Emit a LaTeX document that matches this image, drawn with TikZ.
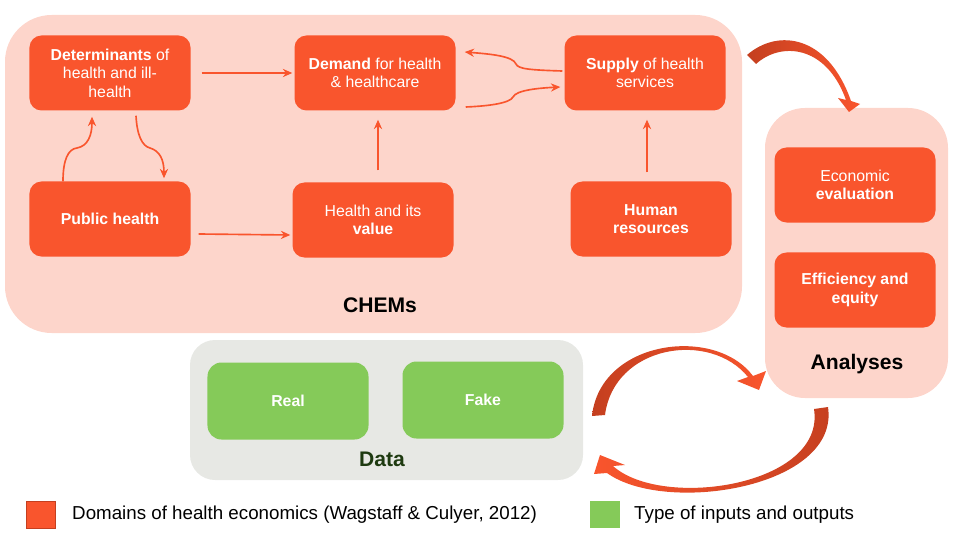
\documentclass[tikz,border=0pt]{standalone}
\usepackage{fontspec}
\setmainfont{Liberation Sans}
\usetikzlibrary{calc,arrows.meta}

\definecolor{domorange}{HTML}{F9552D}
\definecolor{chemsbg}{HTML}{FDD5CB}
\definecolor{databg}{HTML}{E7E8E4}
\definecolor{typegreen}{HTML}{85CA59}
\definecolor{datatext}{HTML}{1E3A10}
\definecolor{bigdark}{HTML}{C43F1F}

\tikzset{
	dombox/.style={rectangle, rounded corners=0.36cm, fill=domorange, text=white, minimum width=4.83cm, minimum height=2.25cm, align=center, inner sep=2pt, font=\fontsize{13.5}{15.8}\selectfont},
	typebox/.style={rectangle, rounded corners=0.42cm, fill=typegreen, text=white, minimum width=4.83cm, minimum height=2.31cm, font=\fontsize{13.5}{15.8}\selectfont\bfseries},
	flow/.style={draw=domorange, line width=1.4pt, -{Stealth[length=8pt,width=7pt]}},
	grouplabel/.style={font=\fontsize{18}{20}\selectfont\bfseries},
	legendtext/.style={anchor=west, inner sep=0pt, font=\fontsize{16}{18}\selectfont},
}

\begin{document}
\begin{tikzpicture}[x=0.03cm, y=-0.03cm]
				\useasboundingbox (0,0) rectangle (960,540);
				
				% containers
				\fill[chemsbg, rounded corners=1.4cm] (5,15) rectangle (742,333);
				\fill[chemsbg, rounded corners=1.2cm] (765,108) rectangle (948,398);
				\fill[databg, rounded corners=0.75cm] (190,340) rectangle (583,480);
				
				\node[grouplabel] (chemslbl) at (380,305) {CHEMs};
				\node[grouplabel] (anlbl) at (857,364) {Analyses};
				\node[grouplabel, text=datatext] (datalbl) at (382,459) {Data};
				
				% domains
				\node[dombox] (det) at (110,73) {\textbf{Determinants} of\\health and ill-\\health};
				\node[dombox] (dem) at (375,73) {\textbf{Demand} for health\\\& healthcare};
				\node[dombox] (sup) at (645,73) {\textbf{Supply} of health\\services};
				\node[dombox] (ph) at (110,219) {\textbf{Public health}};
				\node[dombox] (hv) at (373,220) {Health and its\\\textbf{value}};
				\node[dombox] (hr) at (651,219) {\textbf{Human}\\\textbf{resources}};
				\node[dombox] (ee) at (855,185) {Economic\\\textbf{evaluation}};
				\node[dombox] (eq) at (855,290) {\textbf{Efficiency and}\\\textbf{equity}};
				
				\node[typebox] (real) at (288,401) {Real};
				\node[typebox] (fake) at (483,400) {Fake};
				
				% links between domains
				\draw[flow] ($(det.east)+(11,0)$) -- ($(dem.west)+(-2,0)$);
				\draw[flow] ($(ph.east)+(8,15)$) -- ($(hv.west)+(-2,15)$);
				\draw[flow] ($(hv.north)+(5,-12)$) -- ($(dem.south)+(3,9)$);
				\draw[flow] ($(hr.north)+(-4,-9)$) -- ($(sup.south)+(2,9)$);
				\draw[flow] ($(ph.north)+(-47,0)$) .. controls (63,160) and (68,149) .. (77,148) .. controls (88,146) and (92,135) .. ($(det.south)+(-18,6)$);
				\draw[flow] ($(det.south)+(26,5)$) .. controls (137,135) and (142,146) .. (150,148) .. controls (160,151) and (164,160) .. ($(ph.north)+(54,-3)$);
				\draw[flow] ($(sup.west)+(-2,-2)$) .. controls (530,70) and (518,69) .. (516,64) .. controls (513,56) and (490,54) .. ($(dem.east)+(9,-21)$);
				\draw[flow] ($(dem.east)+(10,34)$) .. controls (490,106) and (510,103) .. (513,97) .. controls (516,90) and (540,88) .. ($(sup.west)+(-4,14)$);
				
				% big curved arrows
				\shade[left color=bigdark, right color=domorange] (747,55) .. controls (778,28) and (828,35) .. (851,101) -- (860,104) -- (849,112) -- (838,98) -- (846,100) .. controls (826,44) and (780,42) .. (756,64) -- cycle;
				\shade[left color=bigdark, right color=domorange] (592,416) .. controls (600,340) and (715,325) .. (753,376) -- (766,371) -- (759,390) -- (737,381) -- (748,377) .. controls (710,330) and (614,345) .. (605,415) -- cycle;
				\shade[left color=domorange, right color=bigdark] (828,407) .. controls (840,488) and (665,515) .. (607,473) -- (594,474) -- (600,455) -- (625,465) -- (613,466) .. controls (662,510) and (826,486) .. (814,409) -- cycle;
				
				% legend
				\draw[fill=domorange, draw=bigdark, line width=0.6pt] (26,501) rectangle (55,528);
				\node[legendtext] (domleg) at (72,515) {Domains of health economics (Wagstaff \& Culyer, 2012)};
				\fill[typegreen] (590,501) rectangle (620,528);
				\node[legendtext] (typeleg) at (634,515) {Type of inputs and outputs};
			\end{tikzpicture}
\end{document}
